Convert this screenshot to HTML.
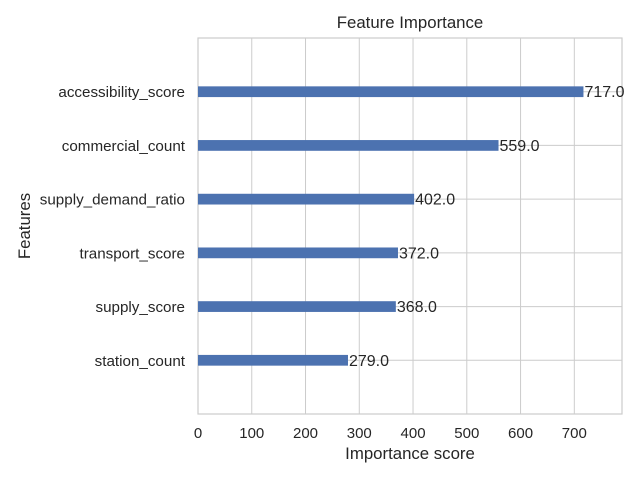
<!DOCTYPE html>
<html><head><meta charset="utf-8"><style>
body{margin:0;background:#fff;font-family:"Liberation Sans",sans-serif;}
svg text{font-family:"Liberation Sans","DejaVu Sans",sans-serif;fill:#262626;}
</style></head><body>
<svg id="chart" width="640" height="480" xmlns="http://www.w3.org/2000/svg"></svg>
<script>
const categories=["station_count","supply_score","transport_score","supply_demand_ratio","commercial_count","accessibility_score"];
const values=[279,368,372,402,559,717];
const xTicks=[0,100,200,300,400,500,600,700];
const NS="http://www.w3.org/2000/svg";
const svg=document.getElementById("chart");
const L=198,R=622,T=38,B=414;
const xMax=788.7, yMin=-1, yMax=6;
const xs=v=>L+(v/xMax)*(R-L);
const ys=i=>B-((i-yMin)/(yMax-yMin))*(B-T);
function mk(tag,attrs,txt){const e=document.createElementNS(NS,tag);for(const k in attrs)e.setAttribute(k,attrs[k]);if(txt!==undefined)e.textContent=txt;svg.appendChild(e);return e;}
xTicks.forEach(t=>{
  const g=mk("line",{x1:xs(t),x2:xs(t),y1:T,y2:B,stroke:"#cccccc","stroke-width":1});
  
  
  const tl=mk("text",{x:xs(t),y:B+24,"text-anchor":"middle","font-size":15},String(t));
  
  
});
categories.forEach((c,i)=>{
  const g=mk("line",{x1:L,x2:R,y1:ys(i),y2:ys(i),stroke:"#cccccc","stroke-width":1});
  
  
});
const fr=mk("rect",{x:L,y:T,width:R-L,height:B-T,fill:"none",stroke:"#cccccc","stroke-width":1.2});


categories.forEach((c,i)=>{
  const h=0.2*(B-T)/(yMax-yMin);
  const b=mk("rect",{x:L,y:ys(i)-h/2,width:xs(values[i])-L,height:h,fill:"#4c72b0"});
  
  
  const v=mk("text",{x:xs(values[i])+1,y:ys(i)+5.5,"font-size":16},values[i].toFixed(1));
  
  
  const tl=mk("text",{x:L-13,y:ys(i)+5.5,"text-anchor":"end","font-size":15.2},c);
  
  
});
const ti=mk("text",{x:(L+R)/2,y:28,"text-anchor":"middle","font-size":16.8},"Feature Importance");


const xl=mk("text",{x:(L+R)/2,y:459,"text-anchor":"middle","font-size":16.8},"Importance score");


const yl=mk("text",{x:30,y:(T+B)/2,"text-anchor":"middle","font-size":16.8,transform:"rotate(-90 30 "+((T+B)/2)+")"},"Features");


</script>
</body></html>
